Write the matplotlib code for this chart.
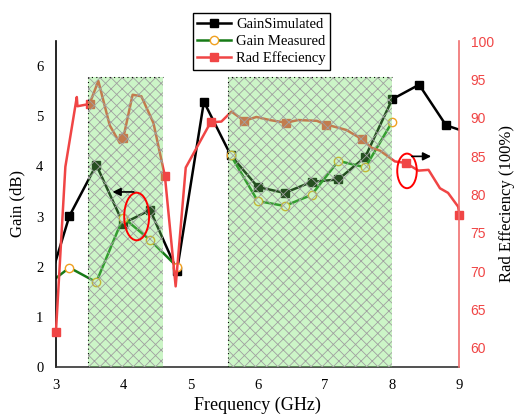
import numpy as np
import matplotlib
matplotlib.use("Agg")
import matplotlib.pyplot as plt
from matplotlib.patches import Rectangle, Ellipse
from matplotlib.lines import Line2D

# gain curves (GHz, dB)
sim_freq = [2.8, 3.2, 3.6, 4.0, 4.4, 4.8, 5.2, 5.6, 6.0, 6.4, 6.8, 7.2, 7.6, 8.0, 8.4, 8.8, 9.2]
sim_gain = [1.25, 3.01, 4.03, 2.86, 3.13, 1.92, 5.29, 4.22, 3.59, 3.47, 3.69, 3.74, 4.19, 5.34, 5.63, 4.82, 4.64]

meas_freq = [2.8, 3.2, 3.6, 4.0, 4.4, 4.8, 5.2, 5.6, 6.0, 6.4, 6.8, 7.2, 7.6, 8.0]
meas_gain = [1.56, 1.98, 1.69, 2.98, 2.53, 2.0, np.nan, 4.22, 3.31, 3.21, 3.43, 4.11, 3.98, 4.89]

# radiation efficiency (%)
eff_freq = [3.0, 3.14, 3.31, 3.32, 3.5, 3.63, 3.80, 3.95, 4.0, 4.14, 4.27, 4.45, 4.59, 4.62,
            4.78, 4.93, 5.30, 5.46, 5.61, 5.80, 5.98, 6.18, 6.42, 6.60, 6.88, 7.01, 7.07,
            7.32, 7.55, 7.69, 7.82, 8.04, 8.2, 8.39, 8.54, 8.71, 8.83, 8.98, 9.0]
eff_val = [62.1, 83.6, 92.7, 91.5, 91.8, 94.8, 89.0, 86.7, 87.3, 93.0, 92.8, 89.3, 83.6, 82.4,
           68.0, 83.5, 89.4, 89.5, 90.8, 89.6, 90.1, 89.7, 89.35, 89.7, 89.6, 89.1, 89.0,
           88.4, 87.2, 86.1, 85.7, 84.3, 84.1, 83.1, 83.2, 80.8, 80.2, 78.4, 77.3]
eff_marks = [0, 4, 8, 13, 16, 19, 22, 25, 28, 32, 38]

# shaded bands (GHz) and their height (dB)
bands = [(3.48, 4.59), (5.56, 8.0)]
band_top = 5.78

x_ticks = [3, 4, 5, 6, 7, 8, 9]
gain_ticks = [0, 1, 2, 3, 4, 5, 6]
eff_ticks = [60, 65, 70, 75, 80, 85, 90, 95, 100]

serif = "Liberation Serif"
sans = "Liberation Sans"
red = "#f04545"
plt.rcParams["hatch.linewidth"] = 0.6

fig = plt.figure(figsize=(5.18, 4.15), dpi=100)
ax = fig.add_axes([0.108, 0.116, 0.779, 0.785])
ax2 = ax.twinx()

ax.plot(sim_freq, sim_gain, color="black", lw=1.8, marker="s", ms=5.5, label="GainSimulated")
ax.plot(meas_freq, meas_gain, color="#167a16", lw=1.8, marker="o", ms=6,
        mfc="white", mec="#f0a020", mew=1.0, label="Gain Measured")
ax2.plot(eff_freq, eff_val, color=red, lw=1.8, marker="s", ms=6, markevery=eff_marks,
         clip_on=False, zorder=2, label="Rad Effeciency")

for x0, x1 in bands:
    r = Rectangle((x0, 0), x1 - x0, band_top, transform=ax.transData,
                  facecolor=(0.43, 0.89, 0.38, 0.35), edgecolor="#a0a0a0",
                  hatch="xxx", lw=0, zorder=3)
    ax2.add_patch(r)
    ax2.plot([x0, x0, x1], [0, band_top, band_top], transform=ax.transData,
             color="black", lw=0.8, ls=(0, (1, 3)), zorder=3.1)

# annotations
ax2.add_patch(Ellipse((4.2, 3.0), 0.37, 0.95, transform=ax.transData,
                      fill=False, ec="red", lw=1.4, zorder=5))
ax2.add_patch(Ellipse((8.22, 3.91), 0.29, 0.69, transform=ax.transData,
                      fill=False, ec="red", lw=1.4, zorder=5))
ax2.annotate("", xy=(3.8, 3.49), xytext=(4.2, 3.49), xycoords=ax.transData,
             textcoords=ax.transData, zorder=5,
             arrowprops=dict(arrowstyle="-|>", color="black", lw=1.2, mutation_scale=12))
ax2.annotate("", xy=(8.62, 4.2), xytext=(8.25, 4.2), xycoords=ax.transData,
             textcoords=ax.transData, zorder=5,
             arrowprops=dict(arrowstyle="-|>", color="black", lw=1.2, mutation_scale=12))

ax.set_xlim(3, 9)
ax.set_ylim(0, 6.5)
ax2.set_ylim(57.5, 100)
ax.set_xticks(x_ticks)
ax.set_yticks(gain_ticks)
ax2.set_yticks(eff_ticks)
ax.set_xticklabels([str(t) for t in x_ticks], fontfamily=serif, fontsize=10.5)
ax.set_yticklabels([str(t) for t in gain_ticks], fontfamily=serif, fontsize=10.5)
ax2.set_yticklabels([str(t) for t in eff_ticks], fontfamily=sans, fontsize=10, color=red)
ax.tick_params(length=0, pad=9)
ax2.tick_params(length=0, pad=8)

for a in (ax, ax2):
    a.spines["top"].set_visible(False)
ax.spines["right"].set_visible(False)
ax2.spines["left"].set_visible(False)
ax2.spines["bottom"].set_visible(False)
ax2.spines["right"].set_color("#f07070")
ax2.spines["right"].set_linewidth(1.2)
ax.spines["left"].set_linewidth(1.2)
ax.spines["bottom"].set_linewidth(1.2)
ax.spines["bottom"].set_color("#333333")

ax.set_xlabel("Frequency (GHz)", fontfamily=serif, fontsize=13, labelpad=3)
ax.set_ylabel("Gain (dB)", fontfamily=serif, fontsize=12, labelpad=8)
ax2.set_ylabel("Rad Effeciency (100%)", fontfamily=serif, fontsize=12, labelpad=4)

handles = [Line2D([], [], color="black", lw=1.8, marker="s", ms=5.5),
           Line2D([], [], color="#167a16", lw=1.8, marker="o", ms=6, mfc="white", mec="#f0a020"),
           Line2D([], [], color=red, lw=1.8, marker="s", ms=6)]
labels = ["GainSimulated", "Gain Measured", "Rad Effeciency"]
leg = fig.legend(handles, labels, loc="upper left", bbox_to_anchor=(0.372, 0.968),
                 prop={"family": serif, "size": 10.5}, fancybox=False, framealpha=1,
                 edgecolor="black", handlelength=2.3, borderpad=0.3, labelspacing=0.25,
                 handletextpad=0.4, borderaxespad=0)
leg.get_frame().set_linewidth(1.0)

fig.savefig("out.png", dpi=100)
